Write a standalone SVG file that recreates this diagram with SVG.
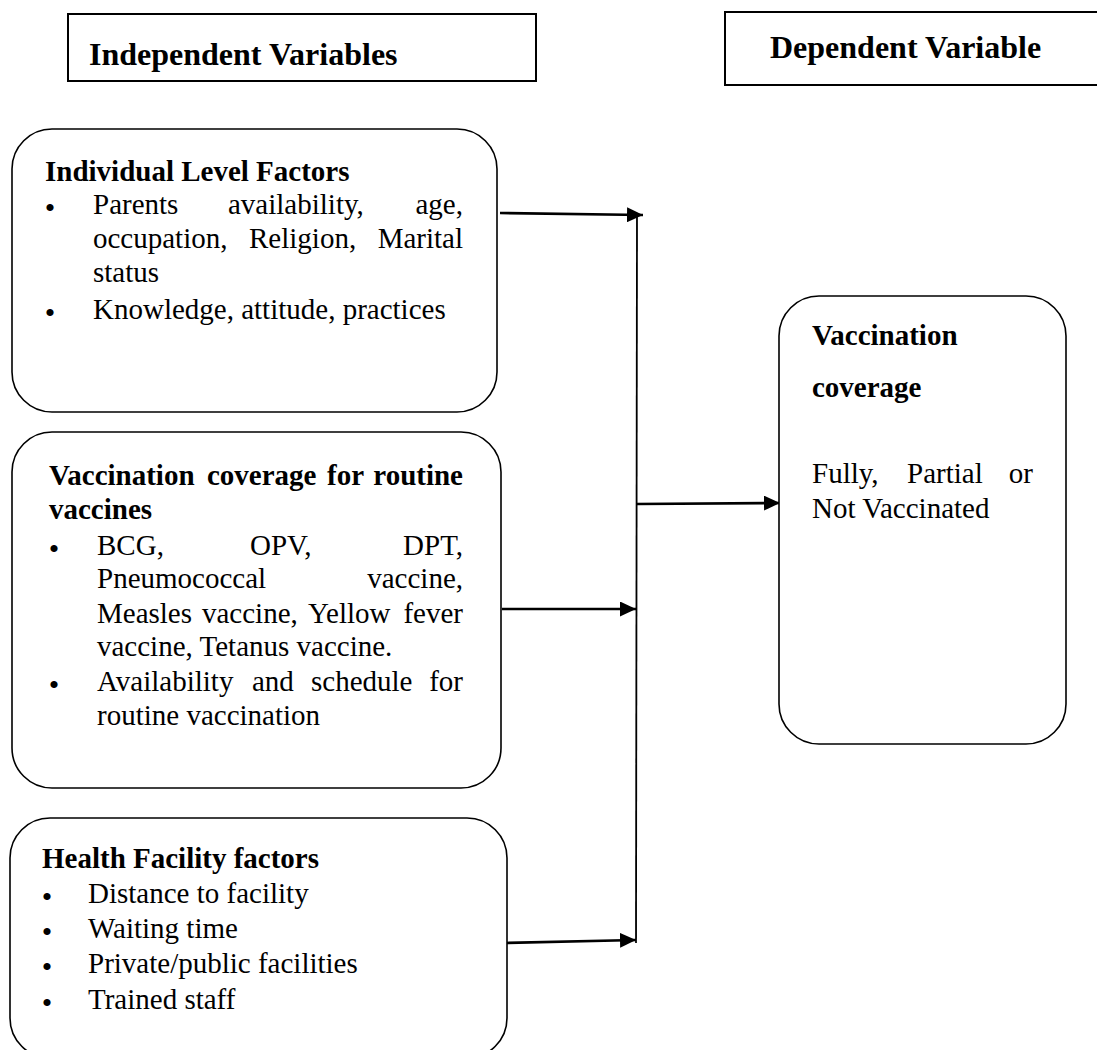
<svg xmlns="http://www.w3.org/2000/svg" width="1097" height="1050" viewBox="0 0 1097 1050">
<style>
.hdr{fill:#fff;stroke:#000;stroke-width:2}
.box{fill:#fff;stroke:#000;stroke-width:1.6}
text{font-family:"Liberation Serif","Times New Roman",serif;fill:#000}
.h{font-size:32px;font-weight:bold}
.b{font-size:29px;font-weight:bold}
.t{font-size:29px}
.e{text-anchor:end}
.bul{font-size:30px;text-anchor:middle}
.arr{stroke:#000;stroke-width:2.6;fill:none;marker-end:url(#ah)}
.vl{stroke:#000;stroke-width:1.8;fill:none}
</style>
<defs>
<marker id="ah" markerUnits="userSpaceOnUse" markerWidth="16" markerHeight="15" refX="16" refY="7.5" orient="auto">
<path d="M0,0 L16,7.5 L0,15 z" fill="#000"/>
</marker>
</defs>
<rect width="1097" height="1050" fill="#fff"/>

<g id="hdr-independent">
<rect class="hdr" x="68" y="14" width="468" height="67"/>
<text class="h" x="89" y="65">Independent Variables</text>
</g>
<g id="hdr-dependent">
<rect class="hdr" x="725" y="12" width="380" height="73"/>
<text class="h" x="770" y="58">Dependent Variable</text>
</g>

<g id="connectors">
<line class="vl" x1="637" y1="215" x2="636" y2="943"/>
<line class="arr" x1="500" y1="213" x2="643" y2="215"/>
<line class="arr" x1="502" y1="609" x2="636" y2="609"/>
<line class="arr" x1="504" y1="943" x2="636" y2="940"/>
<line class="arr" x1="636" y1="504" x2="780" y2="503"/>
</g>

<g id="node-individual">
<rect class="box" x="12" y="129" width="485" height="283" rx="40" ry="40"/>
<text class="b" x="45" y="181">Individual Level Factors</text>
<text class="bul" x="50" y="218">•</text>
<text class="t" x="93" y="214">Parents</text>
<text class="t" x="228" y="214">availability,</text>
<text class="t e" x="463" y="214">age,</text>
<text class="t" x="93" y="248">occupation,</text>
<text class="t" x="249" y="248">Religion,</text>
<text class="t e" x="463" y="248">Marital</text>
<text class="t" x="93" y="282">status</text>
<text class="bul" x="50" y="323">•</text>
<text class="t" x="93" y="319">Knowledge, attitude, practices</text>
</g>

<g id="node-vaccination-routine">
<rect class="box" x="12" y="432" width="489" height="356" rx="40" ry="40"/>
<text class="b" x="49" y="485">Vaccination</text>
<text class="b" x="207" y="485">coverage</text>
<text class="b" x="327" y="485">for</text>
<text class="b e" x="463" y="485">routine</text>
<text class="b" x="49" y="519">vaccines</text>
<text class="bul" x="54" y="559">•</text>
<text class="t" x="97" y="555">BCG,</text>
<text class="t" x="250" y="555">OPV,</text>
<text class="t e" x="463" y="555">DPT,</text>
<text class="t" x="97" y="588">Pneumococcal</text>
<text class="t e" x="463" y="588">vaccine,</text>
<text class="t" x="97" y="623">Measles</text>
<text class="t" x="202" y="623">vaccine,</text>
<text class="t" x="308" y="623">Yellow</text>
<text class="t e" x="463" y="623">fever</text>
<text class="t" x="97" y="656">vaccine, Tetanus vaccine.</text>
<text class="bul" x="54" y="695">•</text>
<text class="t" x="97" y="691">Availability</text>
<text class="t" x="252" y="691">and</text>
<text class="t" x="311" y="691">schedule</text>
<text class="t e" x="463" y="691">for</text>
<text class="t" x="97" y="725">routine vaccination</text>
</g>

<g id="node-health-facility">
<rect class="box" x="10" y="818" width="497" height="240" rx="40" ry="40"/>
<text class="b" x="42" y="868">Health Facility factors</text>
<text class="bul" x="47" y="907">•</text>
<text class="t" x="88" y="903">Distance to facility</text>
<text class="bul" x="47" y="942">•</text>
<text class="t" x="88" y="938">Waiting time</text>
<text class="bul" x="47" y="977">•</text>
<text class="t" x="88" y="973">Private/public facilities</text>
<text class="bul" x="47" y="1013">•</text>
<text class="t" x="88" y="1009">Trained staff</text>
</g>

<g id="node-vaccination-coverage">
<rect class="box" x="779" y="296" width="287" height="448" rx="40" ry="40"/>
<text class="b" x="812" y="345">Vaccination</text>
<text class="b" x="812" y="397">coverage</text>
<text class="t" x="812" y="483">Fully,</text>
<text class="t" x="907" y="483">Partial</text>
<text class="t e" x="1033" y="483">or</text>
<text class="t" x="812" y="518">Not Vaccinated</text>
</g>
</svg>
